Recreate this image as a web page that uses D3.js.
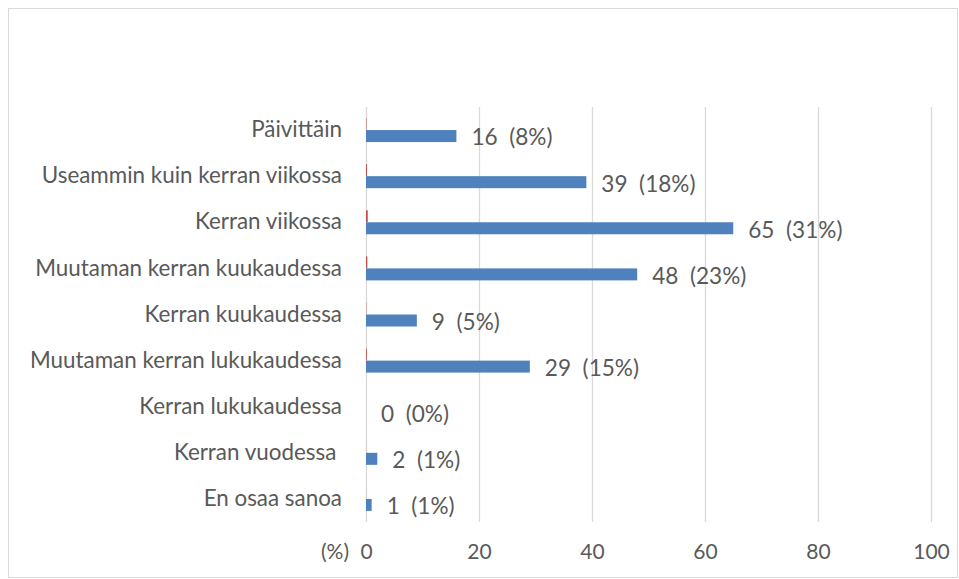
<!DOCTYPE html>
<html>
<head>
<meta charset="utf-8">
<script src="https://cdn.jsdelivr.net/npm/d3@7"></script>
<style>
  body { margin: 0; background: #fff; }
  text { font-family: Lato, "Liberation Sans", sans-serif; fill: #595959; }
</style>
</head>
<body>
<div class="chart"></div>
<script>
// categories and values
const categories = ['Päivittäin', 'Useammin kuin kerran viikossa', 'Kerran viikossa',
  'Muutaman kerran kuukaudessa', 'Kerran kuukaudessa', 'Muutaman kerran lukukaudessa',
  'Kerran lukukaudessa', 'Kerran vuodessa ', 'En osaa sanoa']
const counts = [16, 39, 65, 48, 9, 29, 0, 2, 1]
const percents = [8, 18, 31, 23, 5, 15, 0, 1, 1]
// second (red) series: share as a fraction, nearly invisible at this scale
const shares = percents.map(p => p / 100)
const xTicks = [0, 20, 40, 60, 80, 100]

var W = 959, H = 579
var margin = {top: 107, right: 28, bottom: 57, left: 366}

var svg = d3.select(".chart")
  .append("svg")
  .attr("width", W)
  .attr("height", H)

// outer frame
svg.append("rect")
  .attr("x", 8.5).attr("y", 8.5)
  .attr("width", W - 10).attr("height", H - 10)
  .attr("fill", "none")
  .attr("stroke", "#d9d9d9")

var x = d3.scaleLinear()
  .domain([0, 100])
  .range([margin.left, W - margin.right])

var y = d3.scaleBand()
  .domain(categories)
  .range([margin.top, H - margin.bottom])

// gridlines
svg.append("g")
  .selectAll("line")
  .data(xTicks)
  .enter().append("line")
  .attr("x1", d => Math.round(x(d)) + 0.5)
  .attr("x2", d => Math.round(x(d)) + 0.5)
  .attr("y1", margin.top)
  .attr("y2", H - margin.bottom)
  .attr("stroke", "#d9d9d9")
  .attr("stroke-width", 1.3)

// x axis labels
var xAxis = svg.append("g")
  .attr("transform", "translate(0," + (H - margin.bottom) + ")")
  .call(d3.axisBottom(x).tickValues(xTicks).tickSize(0).tickPadding(22))
xAxis.select(".domain").remove()
xAxis.selectAll("text")
  .style("font-size", "21px")
  .attr("fill", "#595959")

svg.append("text")
  .attr("x", margin.left - 17)
  .attr("y", H - margin.bottom + 30)
  .attr("dy", ".35em")
  .style("text-anchor", "end")
  .style("font-size", "21px")
  .text("(%)")

// category labels
var yAxis = svg.append("g")
  .attr("transform", "translate(" + margin.left + ",0)")
  .call(d3.axisLeft(y).tickSize(0).tickPadding(24))
yAxis.select(".domain").remove()
yAxis.selectAll("text")
  .style("font-size", "22.4px")
  .attr("fill", "#595959")
  .style("white-space", "pre")

var barH = 12

// red series (upper bar of each pair)
svg.append("g")
  .selectAll("rect")
  .data(shares)
  .enter().append("rect")
  .attr("x", x(0))
  .attr("y", (d, i) => y(categories[i]) + y.bandwidth() / 2 - barH)
  .attr("width", d => x(d) - x(0))
  .attr("height", barH)
  .attr("fill", "#c0504d")

// blue series (lower bar)
svg.append("g")
  .selectAll("rect")
  .data(counts)
  .enter().append("rect")
  .attr("x", x(0))
  .attr("y", (d, i) => y(categories[i]) + y.bandwidth() / 2)
  .attr("width", d => x(d) - x(0))
  .attr("height", barH)
  .attr("fill", "#4f81bd")

// value labels
svg.append("g")
  .selectAll("text")
  .data(counts)
  .enter().append("text")
  .attr("x", d => x(d) + 15)
  .attr("y", (d, i) => y(categories[i]) + y.bandwidth() / 2 + barH / 2 + 1.5)
  .attr("dy", ".35em")
  .style("font-size", "22.6px")
  .style("white-space", "pre")
  .text((d, i) => d + "  (" + percents[i] + "%)")
</script>
</body>
</html>
